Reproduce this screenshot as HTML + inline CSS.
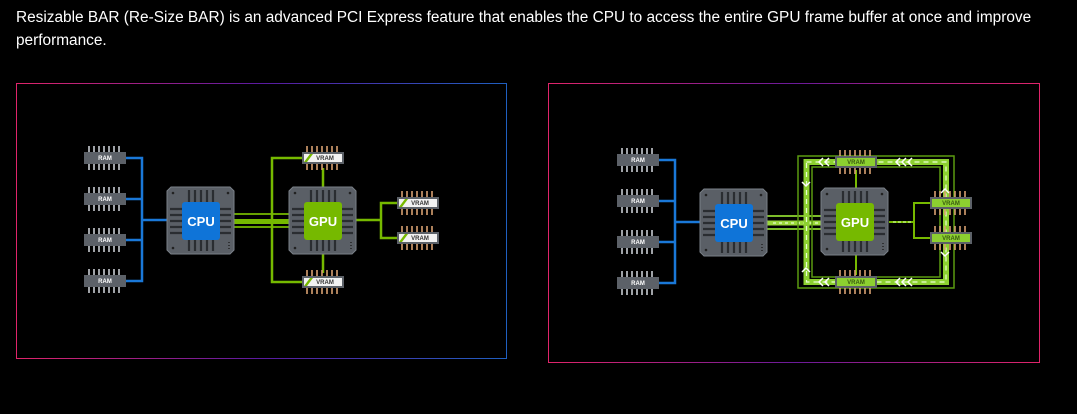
<!DOCTYPE html>
<html><head><meta charset="utf-8"><style>
html,body{margin:0;padding:0;background:#000;width:1077px;height:414px;overflow:hidden}
p{position:absolute;left:16px;top:6px;margin:0;width:1045px;color:#fff;font-family:"Liberation Sans",sans-serif;font-size:15.4px;line-height:23px}
svg{position:absolute;left:0;top:0}
text{font-family:"Liberation Sans",sans-serif;font-weight:bold}
</style></head><body>
<p>Resizable BAR (Re-Size BAR) is an advanced PCI Express feature that enables the CPU to access the entire GPU frame buffer at once and improve performance.</p>
<svg width="1077" height="414" viewBox="0 0 1077 414">
<defs>
<linearGradient id="b1" x1="0" x2="1"><stop offset="0" stop-color="#e0246a"/><stop offset="0.5" stop-color="#5a1aa0"/><stop offset="1" stop-color="#1f5fc0"/></linearGradient>
<linearGradient id="b2" x1="0" x2="1"><stop offset="0" stop-color="#e0246a"/><stop offset="0.5" stop-color="#6a1a9a"/><stop offset="1" stop-color="#e0246a"/></linearGradient>
<g id="ram">
 <g stroke="#c8ccd2" stroke-width="1.6">
  <path d="M5 -12v6M10 -12v6M15 -12v6M20 -12v6M25 -12v6M30 -12v6M35 -12v6M5 6v6M10 6v6M15 6v6M20 6v6M25 6v6M30 6v6M35 6v6"/>
 </g>
 <rect x="0" y="-6" width="42" height="12" fill="#5c6168"/>
</g>
<g id="vram">
 <g stroke="#d8a070" stroke-width="1.6">
  <path d="M5 -12v6M10 -12v6M15 -12v6M20 -12v6M25 -12v6M30 -12v6M35 -12v6M5 6v6M10 6v6M15 6v6M20 6v6M25 6v6M30 6v6M35 6v6"/>
 </g>
 <rect x="0" y="-6" width="42" height="12" fill="#5c6168"/>
 <rect x="2" y="-4" width="38" height="8" fill="#f2f2f2"/>
 <path d="M2 4 L8 -4 L11 -4 L5 4Z" fill="#76b900"/>
</g>
<g id="pkg">
 <path d="M4 0H63L67 4V63L63 67H4L0 63V4Z" fill="#5a5f66" stroke="#7a8088" stroke-width="1"/>
 <g stroke="#2a2d31" stroke-width="2.2">
  <path d="M22 3v12M28 3v12M34 3v12M40 3v12M46 3v12M22 52v12M28 52v12M34 52v12M40 52v12M46 52v12M3 22h12M3 28h12M3 34h12M3 40h12M3 46h12M52 22h12M52 28h12M52 34h12M52 40h12M52 46h12"/>
 </g>
 <circle cx="6" cy="6" r="1.3" fill="#222"/><circle cx="6" cy="61" r="1.3" fill="#222"/><circle cx="61" cy="6" r="1.3" fill="#222"/>
 <path d="M62 55v1M62 58v1M62 61v1" stroke="#222" stroke-width="1.5"/>
</g>
<g id="left">
 <path d="M126 158H142V281H126M126 199H142M126 240H142M142 220H167" stroke="#1a78d8" stroke-width="2.5" fill="none"/>
 <path d="M234 214H289M234 227H289" stroke="#76b900" stroke-width="1.8"/>
 <path d="M234 221.5H289" stroke="#76b900" stroke-width="5"/>
 <path d="M302 158H272V282H302M323 168V188M323 253V273M356 220H381M397 203H381V238H397" stroke="#76b900" stroke-width="2.5" fill="none"/>
</g>
</defs>
<rect x="16.5" y="83.5" width="490" height="275" fill="none" stroke="url(#b1)" stroke-width="1"/>
<rect x="548.5" y="83.5" width="491" height="279" fill="none" stroke="url(#b2)" stroke-width="1"/>

<use href="#left"/>
<use href="#ram" x="84" y="158"/><use href="#ram" x="84" y="199"/><use href="#ram" x="84" y="240"/><use href="#ram" x="84" y="281"/>
<use href="#pkg" x="167" y="187"/><use href="#pkg" x="289" y="187"/>
<rect x="182" y="202" width="38" height="38" rx="3" fill="#0f74d8"/>
<rect x="304" y="202" width="38" height="38" rx="3" fill="#76b900"/>
<use href="#vram" x="302" y="158"/><use href="#vram" x="302" y="282"/><use href="#vram" x="397" y="203"/><use href="#vram" x="397" y="238"/>
<g fill="#fff" font-size="6" text-anchor="middle"><text x="105" y="160">RAM</text><text x="105" y="201">RAM</text><text x="105" y="242">RAM</text><text x="105" y="283">RAM</text></g>
<g fill="#333" font-size="6" text-anchor="middle"><text x="325" y="160">VRAM</text><text x="325" y="284">VRAM</text><text x="420" y="205">VRAM</text><text x="420" y="240">VRAM</text></g>
<text x="201" y="226" fill="#fff" font-size="13" text-anchor="middle">CPU</text>
<text x="323" y="226" fill="#fff" font-size="13" text-anchor="middle">GPU</text>

<g transform="translate(533,2)">
 <path d="M126 158H142V281H126M126 199H142M126 240H142M142 220H167" stroke="#1a78d8" stroke-width="2.5" fill="none"/>
 <path d="M234 214H289M234 227H289" stroke="#8fd630" stroke-width="1.8"/>
 <path d="M234 221H289" stroke="#9ad83a" stroke-width="5"/>
 <path d="M240 221H285" stroke="#e8ffd0" stroke-width="1.2" stroke-dasharray="3 3"/>
 <path d="M323 168V188M323 253V273M356 220H381M397 201H381V236H397" stroke="#76b900" stroke-width="2" fill="none"/>
 <path d="M360 220H378" stroke="#d8ffb0" stroke-width="1" stroke-dasharray="3 2"/>
</g>
<rect x="798" y="156" width="156" height="132" fill="none" stroke="#5a9a10" stroke-width="1.5"/>
<rect x="806.5" y="162" width="139.5" height="120" fill="none" stroke="#8cd030" stroke-width="6"/>
<rect x="806.5" y="162" width="139.5" height="120" fill="none" stroke="#e8ffd0" stroke-width="1.2" stroke-dasharray="5 4"/>
<rect x="812" y="167" width="128" height="110" fill="none" stroke="#5a9a10" stroke-width="1.5"/>
<g fill="none" stroke="#fff" stroke-width="1.5">
 <path d="M823 158l-4 4 4 4M829 158l-4 4 4 4M900 158l-4 4 4 4M906 158l-4 4 4 4M912 158l-4 4 4 4M823 278l-4 4 4 4M829 278l-4 4 4 4M900 278l-4 4 4 4M906 278l-4 4 4 4M912 278l-4 4 4 4M802 182l4 4 4-4M802 272l4-4 4 4M941 193l4-4 4 4M941 252l4 4 4-4"/>
</g>
<use href="#ram" x="617" y="160"/><use href="#ram" x="617" y="201"/><use href="#ram" x="617" y="242"/><use href="#ram" x="617" y="283"/>
<use href="#pkg" x="700" y="189"/><use href="#pkg" x="821" y="188"/>
<rect x="715" y="204" width="38" height="38" rx="3" fill="#0f74d8"/>
<rect x="836" y="203" width="38" height="38" rx="3" fill="#76b900"/>
<use href="#vram" x="835" y="162"/><use href="#vram" x="835" y="282"/><use href="#vram" x="930" y="203"/><use href="#vram" x="930" y="238"/>
<g fill="#8cd030"><rect x="837" y="158" width="38" height="8"/><rect x="837" y="278" width="38" height="8"/><rect x="932" y="199" width="38" height="8"/><rect x="932" y="234" width="38" height="8"/></g>
<g fill="#3a5a10" font-size="6" text-anchor="middle"><text x="856" y="164">VRAM</text><text x="856" y="284">VRAM</text><text x="951" y="205">VRAM</text><text x="951" y="240">VRAM</text></g>
<g fill="#fff" font-size="6" text-anchor="middle"><text x="638" y="162">RAM</text><text x="638" y="203">RAM</text><text x="638" y="244">RAM</text><text x="638" y="285">RAM</text></g>
<text x="734" y="228" fill="#fff" font-size="13" text-anchor="middle">CPU</text>
<text x="855" y="227" fill="#fff" font-size="13" text-anchor="middle">GPU</text>
</svg>
</body></html>
